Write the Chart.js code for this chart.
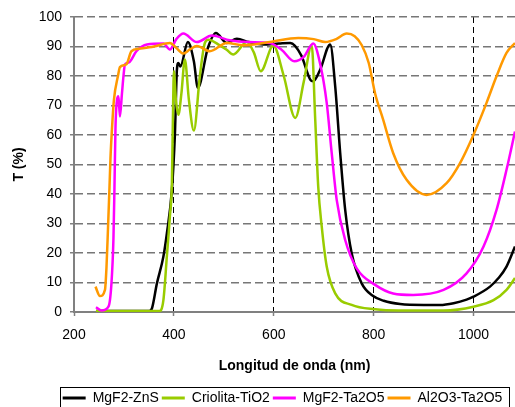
<!DOCTYPE html>
<html>
<head>
<meta charset="utf-8">
<script src="https://cdn.jsdelivr.net/npm/chart.js@4/dist/chart.umd.min.js"></script>
<style>
  html, body { margin: 0; padding: 0; background: #fff; }
  #wrap { width: 515px; height: 407px; }
</style>
</head>
<body>
<div id="wrap"><canvas id="grafico" width="515" height="407"></canvas></div>
<script>
// Datos (longitud de onda en nm, transmitancia en %)
const xTicks = [200, 400, 600, 800, 1000];

const lambdaZnS = [244, 300, 350, 356, 366, 379, 386, 396, 402, 406, 409, 413, 428, 440, 448, 468, 484, 506, 526, 550, 579, 610, 633, 655, 673, 679, 693, 713, 723, 733, 743, 756, 776, 799, 820, 853, 900, 933, 960, 986, 1000, 1033, 1050, 1066, 1083];
const tZnS = [0.3, 0.3, 0.3, 1.2, 9.7, 18.8, 26.7, 41.4, 60, 82, 84.4, 83.2, 91.5, 85, 76, 89.5, 94.6, 91.2, 92.6, 91.5, 90.7, 91, 91.2, 87, 78.8, 78.2, 82.2, 90.7, 76.5, 53.9, 34.6, 19.9, 9.7, 5.4, 3.8, 2.7, 2.4, 2.4, 3.0, 4.2, 5.2, 8.6, 11.5, 15.4, 22.2];

const lambdaTiO2 = [244, 300, 371, 379, 386, 392, 396, 398, 400, 404, 409, 415, 422, 430, 440, 452, 462, 469, 492, 505, 519, 546, 560, 574, 599, 620, 643, 660, 676, 683, 689, 696, 706, 723, 756, 803, 850, 940, 1000, 1040, 1066, 1083];
const tTiO2 = [0.3, 0.3, 0.3, 4, 19, 32.4, 43.8, 65, 81.6, 72, 66.9, 74, 85.6, 72, 61.5, 80, 91.2, 92.3, 90.4, 89, 87.3, 91.5, 88, 81.6, 90.3, 80, 65.8, 78, 90.4, 65.2, 42.5, 29, 15.4, 6.3, 2.4, 0.9, 0.5, 0.5, 1.8, 4, 7.5, 11.5];

const lambdaTa2O5 = [244, 255, 269, 275, 279, 281, 283, 285, 289, 292, 296, 299, 302, 310, 325, 346, 379, 392, 405, 419, 446, 476, 512, 550, 592, 615, 641, 660, 679, 693, 706, 716, 726, 743, 766, 803, 839, 879, 940, 986, 1020, 1046, 1066, 1083];
const tTa2O5 = [1.6, 0.5, 1.8, 9.7, 25, 42, 62, 70, 73.1, 66.3, 74, 79.9, 83.9, 84.6, 88.4, 90.7, 91, 89, 92.5, 94.4, 91.5, 93.7, 92.1, 91.5, 91.2, 89, 85, 86.5, 91, 84, 70.9, 53.9, 38, 24.4, 14.8, 9.2, 6.3, 5.8, 7.5, 13.1, 22.2, 34.6, 48.2, 61.2];

const lambdaAl2O3 = [243, 252, 262, 265, 268, 271, 273, 276, 280, 288, 292, 305, 315, 330, 360, 392, 405, 419, 432, 446, 472, 506, 539, 592, 649, 680, 703, 725, 746, 762, 776, 790, 803, 819, 839, 866, 906, 946, 973, 1000, 1026, 1046, 1066, 1083];
const tAl2O3 = [8.6, 5.4, 7.5, 15, 28, 42, 52, 62, 72, 80, 83, 84, 88.4, 89.2, 90, 91.2, 89.5, 87.6, 89, 90.2, 88.4, 91.2, 90.4, 91.5, 92.9, 92.5, 91.5, 92.5, 94.4, 93.5, 90.5, 84.5, 74, 65.2, 53.9, 44.8, 39.7, 43.7, 50.5, 60.1, 70.9, 79.9, 87.8, 91.2];

const series = ['MgF2-ZnS', 'Criolita-TiO2', 'MgF2-Ta2O5', 'Al2O3-Ta2O5'];
const colores = ['#000000', '#99CC00', '#FF00FF', '#FF9900'];

const pares = (xs, ys) => xs.map((x, i) => ({ x: x, y: ys[i] }));
const valores = [
  pares(lambdaZnS, tZnS),
  pares(lambdaTiO2, tTiO2),
  pares(lambdaTa2O5, tTa2O5),
  pares(lambdaAl2O3, tAl2O3)
];

const FUENTE = '"Liberation Sans", Arial, sans-serif';
const PAD_LEYENDA = 3;

// Desplaza la leyenda y le dibuja el marco negro
const marcoLeyenda = {
  id: 'marcoLeyenda',
  afterLayout(chart){
    const lg = chart.legend;
    lg.left += 50;
    lg.top += 8;
    lg.bottom += 8;
  },
  afterDraw(chart){
    const lg = chart.legend;
    if(!lg || !lg.lineWidths) return;
    const lw = lg.lineWidths[0];
    const x0 = (lg.left + PAD_LEYENDA + lg.right - lw) / 2;
    const cy = lg.top + PAD_LEYENDA + 7;
    const ctx = chart.ctx;
    ctx.save();
    ctx.strokeStyle = '#000';
    ctx.lineWidth = 1;
    ctx.strokeRect(Math.round(x0 - 3) + 0.5, Math.round(cy - 11) + 0.5, Math.round(lw + 6), 21);
    ctx.restore();
  }
};

const ctx = document.getElementById('grafico').getContext('2d');
new Chart(ctx, {
  type: 'line',
  data: {
    datasets: series.map((nombre, i) => ({
      label: nombre,
      data: valores[i],
      borderColor: colores[i],
      backgroundColor: colores[i],
      borderWidth: 2.5,
      pointRadius: 0,
      cubicInterpolationMode: 'monotone',
      fill: false,
      order: series.length - i
    }))
  },
  options: {
    responsive: false,
    animation: false,
    layout: { padding: { top: 17, left: 0, right: 0, bottom: 0 } },
    plugins: {
      tooltip: { enabled: false },
      legend: {
        position: 'bottom',
        labels: {
          font: { family: FUENTE, size: 14 },
          color: '#000',
          boxWidth: 23,
          boxHeight: 3,
          padding: PAD_LEYENDA,
          sort: (a, b) => a.datasetIndex - b.datasetIndex,
          generateLabels: chart => Chart.defaults.plugins.legend.labels.generateLabels(chart)
            .map(l => ({ ...l, lineWidth: 0 }))
        }
      }
    },
    scales: {
      x: {
        type: 'linear',
        min: 200,
        max: 1083,
        afterBuildTicks: s => { s.ticks = xTicks.map(v => ({ value: v })); },
        afterFit: s => { s.height = 68; },
        ticks: {
          font: { family: FUENTE, size: 14 },
          color: '#000',
          padding: 11,
          maxRotation: 0,
          callback: v => String(v)
        },
        grid: {
          color: c => (c.tick && c.tick.value === 200) ? 'rgba(0,0,0,0)' : '#000',
          lineWidth: 1,
          tickLength: 4,
          tickColor: '#808080',
          tickWidth: 1.5
        },
        border: { display: true, color: '#808080', width: 2, dash: [6, 4] },
        title: {
          display: true,
          text: 'Longitud de onda (nm)',
          font: { family: FUENTE, size: 14, weight: 'bold' },
          color: '#000',
          padding: { top: 0, bottom: 5 }
        }
      },
      y: {
        min: 0,
        max: 100,
        afterFit: s => { s.width = 74; },
        ticks: {
          stepSize: 10,
          font: { family: FUENTE, size: 14 },
          color: '#000',
          padding: 8
        },
        grid: {
          color: '#777777',
          lineWidth: 1.5,
          tickLength: 4,
          tickColor: '#808080',
          tickWidth: 1.5
        },
        border: { display: true, color: '#808080', width: 2, dash: [8, 4] },
        title: {
          display: true,
          text: 'T (%)',
          font: { family: FUENTE, size: 14, weight: 'bold' },
          color: '#000',
          padding: { top: 11, bottom: 0 }
        }
      }
    }
  },
  plugins: [marcoLeyenda]
});
</script>
</body>
</html>
